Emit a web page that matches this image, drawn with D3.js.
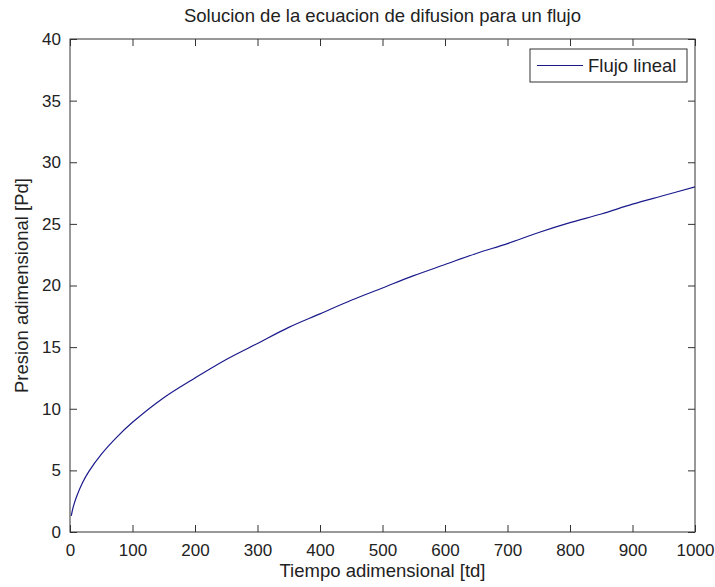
<!DOCTYPE html>
<html><head><meta charset="utf-8">
<script src="https://cdn.jsdelivr.net/npm/d3@7"></script>
<style>body{margin:0;background:#fff}svg{display:block}text{font-family:"Liberation Sans",Arial,sans-serif;fill:#222}</style>
</head><body><svg id="c" width="715" height="587"></svg>
<script>
const title = "Solucion de la ecuacion de difusion para un flujo";
const xLabel = "Tiempo adimensional [td]";
const yLabel = "Presion adimensional [Pd]";
const seriesName = "Flujo lineal";
const xTicks = [0,100,200,300,400,500,600,700,800,900,1000];
const yTicks = [0,5,10,15,20,25,30,35,40];
const td = [2,5,10,20,30,50,75,100,150,200,250,300,350,400,450,500,550,600,650,700,750,800,850,900,950,1000];
const pd = [1.3,2.0,2.8,4.0,4.9,6.3,7.7,8.9,10.9,12.5,14.0,15.3,16.6,17.7,18.8,19.8,20.8,21.7,22.6,23.4,24.3,25.1,25.8,26.6,27.3,28.0];

const svg = d3.select("#c");
const L=70, R=695, T=39, B=532, fs=17, lfs=18.5, tl=7, col="#1a1a8c", ax="#333";
const x = d3.scaleLinear().domain([0,1000]).range([L,R]);
const y = d3.scaleLinear().domain([0,40]).range([B,T]);

svg.append("rect").attr("x",L).attr("y",T).attr("width",R-L).attr("height",B-T).attr("fill","#fff");

const line = d3.line().x((d,i)=>x(td[i])).y((d,i)=>y(pd[i])).curve(d3.curveCatmullRom);
svg.append("path").datum(pd).attr("d",line).attr("fill","none").attr("stroke",col).attr("stroke-width",1.2);

function styleAxis(g){g.select(".domain").remove();g.selectAll("line").attr("stroke",ax);g.selectAll("text").attr("font-size",fs).attr("font-family","Liberation Sans, Arial, sans-serif").attr("fill","#222");}
svg.append("g").attr("transform",`translate(0,${B})`).call(d3.axisBottom(x).tickValues(xTicks).tickSize(-tl).tickPadding(12).tickFormat(d3.format("d"))).call(styleAxis);
svg.append("g").attr("transform",`translate(0,${T})`).call(d3.axisTop(x).tickValues(xTicks).tickSize(-tl).tickFormat("")).call(styleAxis);
svg.append("g").attr("transform",`translate(${L},0)`).call(d3.axisLeft(y).tickValues(yTicks).tickSize(-tl).tickPadding(9).tickFormat(d3.format("d"))).call(styleAxis);
svg.append("g").attr("transform",`translate(${R},0)`).call(d3.axisRight(y).tickValues(yTicks).tickSize(-tl).tickFormat("")).call(styleAxis);
svg.append("rect").attr("x",L).attr("y",T).attr("width",R-L).attr("height",B-T).attr("fill","none").attr("stroke",ax).attr("stroke-width",1);

svg.append("text").attr("x",(L+R)/2).attr("y",22).attr("text-anchor","middle").attr("font-size",lfs).text(title);
svg.append("text").attr("x",(L+R)/2).attr("y",577).attr("text-anchor","middle").attr("font-size",lfs).text(xLabel);
svg.append("text").attr("transform",`translate(28,${(T+B)/2}) rotate(-90)`).attr("text-anchor","middle").attr("font-size",lfs).text(yLabel);

const lg = svg.append("g");
lg.append("rect").attr("x",530).attr("y",49).attr("width",157).attr("height",33).attr("fill","#fff").attr("stroke",ax);
lg.append("line").attr("x1",537).attr("x2",583).attr("y1",65.5).attr("y2",65.5).attr("stroke",col).attr("stroke-width",1.2);
lg.append("text").attr("x",588).attr("y",72).attr("font-size",lfs).text(seriesName);
</script></body></html>
